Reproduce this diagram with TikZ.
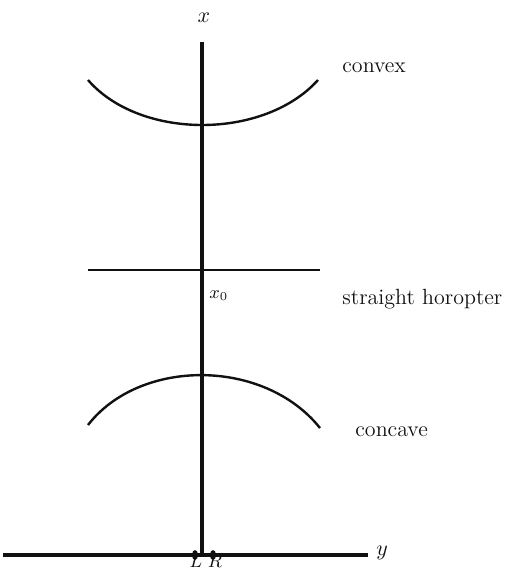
\documentclass[tikz,border=0pt]{standalone}
\usepackage{tikz}
\usetikzlibrary{positioning, calc, shapes.geometric}
\definecolor{ink}{HTML}{111111}
\tikzset{
  axisline/.style={draw=ink, line width=1.7pt},
  curveline/.style={draw=ink, line width=1.2pt},
  lbl/.style={text=ink, inner sep=1pt, font=\fontsize{11}{13}\selectfont},
  eyedot/.style={fill=ink, ellipse, minimum width=3pt, minimum height=5pt, inner sep=0pt},
}

\begin{document}
\begin{tikzpicture}[x=0.5pt, y=-0.5pt]
  \useasboundingbox (0,0) rectangle (514,568);
  % axes
  \coordinate (top) at (202,42);
  \coordinate (orig) at (202,555);
  \coordinate (yl) at (3,555);
  \coordinate (yr) at (368,555);
  \draw[axisline] (top) -- (orig);
  \draw[axisline] (yl) -- (yr);
  \node[lbl] (xlab) at (204,18) {$x$};
  \node[lbl, anchor=west] (ylab) at (374,553) {$y$};
  % eyes
  \node[eyedot] (eyeL) at (195,555) {};
  \node[eyedot] (eyeR) at (213,555) {};
  \node[lbl, font=\small, anchor=base, inner sep=0pt] (Llab) at (196,567.5) {$L$};
  \node[lbl, font=\small, anchor=base, inner sep=0pt] (Rlab) at (215,567.5) {$R$};
  % convex
  \draw[curveline] (88,80) .. controls (140,140) and (264,140) .. (318,80);
  \node[lbl, anchor=west] (cvx) at (340,68) {convex};
  % straight horopter
  \draw[curveline] (88,270) -- (320,270);
  \node[lbl, font=\small, anchor=west] (x0) at (207,296) {$x_0$};
  \node[lbl, anchor=west] (hor) at (340,299) {straight horopter};
  % concave
  \draw[curveline] (88,425) .. controls (140,358) and (264,358) .. (320,428);
  \node[lbl, anchor=west] (ccv) at (353,432) {concave};
\end{tikzpicture}
\end{document}
